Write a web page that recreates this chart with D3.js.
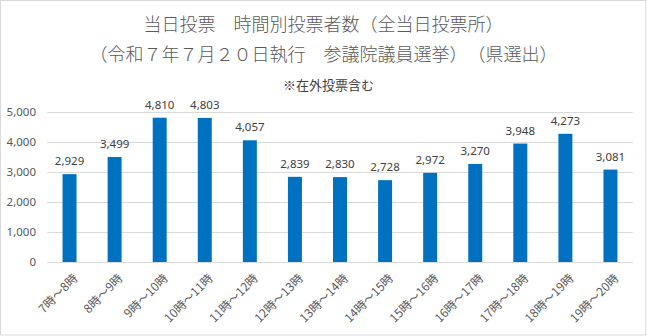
<!DOCTYPE html>
<html>
<head>
<meta charset="utf-8">
<script src="https://cdn.jsdelivr.net/npm/d3@7"></script>
<style>
  body { margin: 0; background: #fff; }
  text { font-family: "Noto Sans CJK JP", "Noto Sans", sans-serif; }
</style>
</head>
<body>
<div id="canvas"></div>
<script>
"use strict"

/*** DATA ***/
let hours = ["7時～8時", "8時～9時", "9時～10時", "10時～11時", "11時～12時", "12時～13時",
    "13時～14時", "14時～15時", "15時～16時", "16時～17時", "17時～18時", "18時～19時", "19時～20時"]
let voters = [2929, 3499, 4810, 4803, 4057, 2839, 2830, 2728, 2972, 3270, 3948, 4273, 3081]
let yTicks = [0, 1000, 2000, 3000, 4000, 5000]

let titleLines = ["当日投票　時間別投票者数（全当日投票所）",
    "（令和７年７月２０日執行　参議院議員選挙）　（県選出）"]
let subTitle = "※在外投票含む"

/*** CANVAS SETUP ***/
let svgWidth = 647
let svgHeight = 336

let margin = { top: 112, right: 14, bottom: 74, left: 47 }

let svg = d3.select("#canvas")
    .append("svg")
    .attr("width", svgWidth)
    .attr("height", svgHeight)

/* outer chart border */
svg.append("rect")
    .attr("x", 0.5)
    .attr("y", 0.5)
    .attr("width", svgWidth - 1.5)
    .attr("height", svgHeight - 1.5)
    .attr("fill", "#fff")
    .attr("stroke", "#d9d9d9")

/*** SCALES ***/
let xScale = d3.scaleBand()
    .domain(hours)
    .range([margin.left, svgWidth - margin.right])
    .paddingInner(0.69)
    .paddingOuter(0.345)

let yScale = d3.scaleLinear()
    .domain([0, 5000])
    .range([svgHeight - margin.bottom, margin.top])

/*** GRID + Y AXIS ***/
let yAxis = d3.axisLeft(yScale)
    .tickValues(yTicks)
    .tickSize(-(svgWidth - margin.right - margin.left))
    .tickPadding(11)
    .tickFormat(d3.format(","))

svg.append("g")
    .attr("transform", "translate(" + margin.left + ",0)")
    .call(yAxis)
    .call(g => g.select(".domain").remove())
    .call(g => g.selectAll("line").attr("stroke", "#d9d9d9").attr("stroke-width", 1))
    .call(g => g.selectAll("text")
        .attr("fill", "#595959")
        .attr("font-size", "11.5px")
        .style("font-family", "'Noto Sans', sans-serif"))

/*** BARS ***/
svg.selectAll(".bar")
    .data(hours)
    .join("rect")
    .attr("class", "bar")
    .attr("x", d => xScale(d))
    .attr("width", xScale.bandwidth())
    .attr("y", (d, i) => yScale(voters[i]))
    .attr("height", (d, i) => yScale(0) - yScale(voters[i]))
    .attr("fill", "#0070c0")

/* value labels */
svg.selectAll(".val")
    .data(hours)
    .join("text")
    .attr("class", "val")
    .attr("x", d => xScale(d) + xScale.bandwidth() / 2)
    .attr("y", (d, i) => yScale(voters[i]) - 9)
    .attr("text-anchor", "middle")
    .attr("fill", "#404040")
    .attr("font-size", "11.5px")
    .style("font-family", "'Noto Sans', sans-serif")
    .text((d, i) => d3.format(",")(voters[i]))

/*** X AXIS LINE + LABELS ***/
svg.append("line")
    .attr("x1", margin.left)
    .attr("x2", svgWidth - margin.right)
    .attr("y1", yScale(0) + 0.5)
    .attr("y2", yScale(0) + 0.5)
    .attr("stroke", "#d9d9d9")

svg.selectAll(".xlab")
    .data(hours)
    .join("text")
    .attr("class", "xlab")
    .attr("transform", d => "translate(" + (xScale(d) + xScale.bandwidth() / 2 + 9) + "," + (yScale(0) + 17) + ") rotate(-45)")
    .attr("text-anchor", "end")
    .attr("fill", "#595959")
    .attr("font-size", "12px")
    .text(d => d)

/*** TITLES ***/
svg.selectAll(".title")
    .data(titleLines)
    .join("text")
    .attr("class", "title")
    .attr("x", svgWidth / 2)
    .attr("y", (d, i) => 31 + i * 30)
    .attr("text-anchor", "middle")
    .attr("fill", "#595959")
    .attr("font-size", "18px")
    .attr("font-weight", 300)
    .text(d => d)

svg.append("text")
    .attr("x", svgWidth / 2 + 5)
    .attr("y", 90)
    .attr("text-anchor", "middle")
    .attr("fill", "#404040")
    .attr("font-size", "13px")
    .text(subTitle)
</script>
</body>
</html>
